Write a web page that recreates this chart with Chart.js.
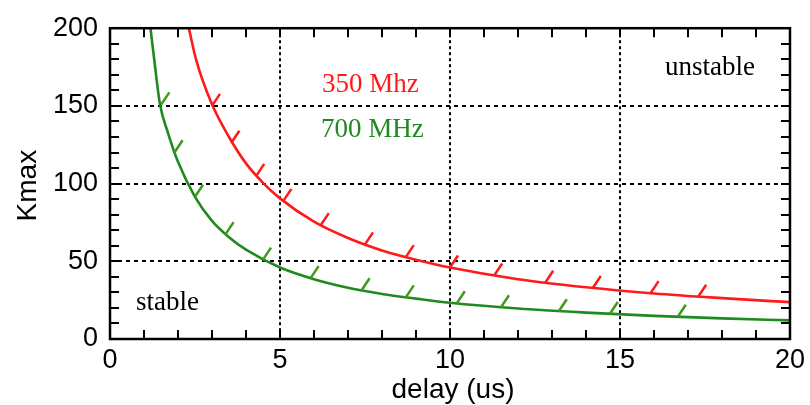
<!DOCTYPE html>
<html>
<head>
<meta charset="utf-8">
<script src="https://cdn.jsdelivr.net/npm/chart.js@4.4.0/dist/chart.umd.min.js"></script>
<style>
  html, body { margin: 0; padding: 0; background: #fff; }
  #wrap { width: 810px; height: 405px; }
</style>
</head>
<body>
<div id="wrap"><canvas id="chart"></canvas></div>
<script>
// --- DATA ---
const delay350 = [2.32, 2.53, 3, 3.5, 4, 4.5, 5, 6, 7, 8, 9, 10, 12, 14, 16, 18, 20];
const kmax350  = [200, 180, 151, 130, 113, 100.5, 90.5, 75.5, 65, 57, 51, 46, 38.5, 33.3, 29.3, 26.3, 23.7];

const delay700 = [1.19, 1.3, 1.47, 1.7, 2, 2.5, 3, 3.5, 4, 5, 6, 7, 8, 9, 10, 12, 14, 16, 18, 20];
const kmax700  = [200, 180, 151, 133, 114, 91.5, 76, 65.5, 57.5, 46, 38.5, 33, 29, 26, 23.3, 19.6, 17, 14.9, 13.3, 12];

// hatch marks on the stability boundary (base points on the curves)
const hatch350X = [3.0, 3.57, 4.3, 5.1, 6.2, 7.5, 8.7, 10.0, 11.3, 12.8, 14.2, 15.9, 17.3];
const hatch350Y = [150, 126.3, 105, 88.9, 73.3, 60.9, 52.7, 46, 40.9, 36.2, 32.8, 29.5, 27.2];
const hatch700X = [1.51, 1.9, 2.5, 3.4, 4.5, 5.9, 7.4, 8.7, 10.2, 11.5, 13.2, 14.7, 16.7];
const hatch700Y = [151, 120.2, 91.5, 67.5, 51.1, 39.2, 31.4, 26.8, 23, 20.4, 17.9, 16.1, 14.3];

const xTicks = [0, 5, 10, 15, 20];
const yTicks = [0, 50, 100, 150, 200];

const RED = '#ff1a1a';
const GREEN = '#1f8a1f';
const GREEN_HATCH = '#3f9a1c';

const pts = (xs, ys) => xs.map((x, i) => ({ x: x, y: ys[i] }));

// --- frame, grid, inward ticks, hatches, labels ---
const decor = {
    id: 'decor',
    beforeDatasetsDraw(chart) {
        const ctx = chart.ctx, a = chart.chartArea;
        const xs = chart.scales.x, ys = chart.scales.y;
        ctx.save();
        ctx.strokeStyle = '#000';
        ctx.lineWidth = 2;
        ctx.setLineDash([3, 3]);
        [5, 10, 15].forEach(v => {
            const px = Math.round(xs.getPixelForValue(v));
            ctx.beginPath(); ctx.moveTo(px, a.top); ctx.lineTo(px, a.bottom); ctx.stroke();
        });
        ctx.setLineDash([4, 4]);
        [50, 100, 150].forEach(v => {
            const py = Math.round(ys.getPixelForValue(v));
            ctx.beginPath(); ctx.moveTo(a.left, py); ctx.lineTo(a.right, py); ctx.stroke();
        });
        ctx.restore();
    },
    afterDatasetsDraw(chart) {
        const ctx = chart.ctx;
        ctx.save();
        ctx.lineWidth = 2.5;
        [[2, RED], [3, GREEN_HATCH]].forEach(([idx, col]) => {
            ctx.strokeStyle = col;
            chart.getDatasetMeta(idx).data.forEach(p => {
                ctx.beginPath(); ctx.moveTo(p.x, p.y); ctx.lineTo(p.x + 8, p.y - 12); ctx.stroke();
            });
        });
        ctx.restore();
    },
    afterDraw(chart) {
        const ctx = chart.ctx, a = chart.chartArea;
        const xs = chart.scales.x, ys = chart.scales.y;
        ctx.save();
        ctx.strokeStyle = '#000';
        ctx.lineWidth = 2;
        // inward ticks on all four sides
        for (let v = 1; v < 20; v++) {
            const px = Math.round(xs.getPixelForValue(v));
            ctx.beginPath();
            ctx.moveTo(px, a.bottom); ctx.lineTo(px, a.bottom - 9);
            ctx.moveTo(px, a.top); ctx.lineTo(px, a.top + 9);
            ctx.stroke();
        }
        for (let v = 10; v < 200; v += 10) {
            const py = Math.round(ys.getPixelForValue(v));
            ctx.beginPath();
            ctx.moveTo(a.left, py); ctx.lineTo(a.left + 9, py);
            ctx.moveTo(a.right, py); ctx.lineTo(a.right - 9, py);
            ctx.stroke();
        }
        ctx.lineWidth = 2.5;
        ctx.strokeRect(a.left, a.top, a.right - a.left, a.bottom - a.top);

        // annotations
        ctx.font = '27px "Liberation Serif", "Times New Roman", serif';
        ctx.textAlign = 'left';
        ctx.textBaseline = 'alphabetic';
        ctx.fillStyle = RED;   ctx.fillText('350 Mhz', 322, 92);
        ctx.fillStyle = GREEN; ctx.fillText('700 MHz', 321, 137);
        ctx.fillStyle = '#000';
        ctx.fillText('unstable', 665, 75);
        ctx.fillText('stable', 136, 310);

        // axis titles
        ctx.font = '28px "Liberation Sans", Arial, sans-serif';
        ctx.textAlign = 'center';
        ctx.fillText('delay (us)', (a.left + a.right) / 2 + 3, 398);
        ctx.translate(36, (a.top + a.bottom) / 2 + 2);
        ctx.rotate(-Math.PI / 2);
        ctx.fillText('Kmax', 0, 0);
        ctx.restore();
    }
};

const tickFont = { family: '"Liberation Sans", Arial, sans-serif', size: 27 };

new Chart(document.getElementById('chart'), {
    type: 'scatter',
    data: {
        datasets: [
            { label: '350 MHz', data: pts(delay350, kmax350), showLine: true, borderColor: RED,
              borderWidth: 2.6, pointRadius: 0, cubicInterpolationMode: 'monotone' },
            { label: '700 MHz', data: pts(delay700, kmax700), showLine: true, borderColor: GREEN,
              borderWidth: 2.6, pointRadius: 0, cubicInterpolationMode: 'monotone' },
            { label: 'hatch 350', data: pts(hatch350X, hatch350Y), showLine: false, pointRadius: 0 },
            { label: 'hatch 700', data: pts(hatch700X, hatch700Y), showLine: false, pointRadius: 0 }
        ]
    },
    plugins: [decor],
    options: {
        responsive: true,
        maintainAspectRatio: false,
        animation: false,
        events: [],
        layout: { padding: { top: 24, right: 16, left: 0, bottom: 0 } },
        plugins: { legend: { display: false }, tooltip: { enabled: false } },
        scales: {
            x: {
                type: 'linear', min: 0, max: 20,
                afterBuildTicks: s => { s.ticks = xTicks.map(v => ({ value: v })); },
                afterFit: s => { s.height = 66; },
                grid: { display: false, drawTicks: false },
                border: { display: false },
                ticks: { color: '#000', font: tickFont, padding: 5, maxRotation: 0 }
            },
            y: {
                type: 'linear', min: 0, max: 200,
                afterBuildTicks: s => { s.ticks = yTicks.map(v => ({ value: v })); },
                afterFit: s => { s.width = 110; },
                grid: { display: false, drawTicks: false },
                border: { display: false },
                ticks: { color: '#000', font: tickFont, padding: 12 }
            }
        }
    }
});
</script>
</body>
</html>
